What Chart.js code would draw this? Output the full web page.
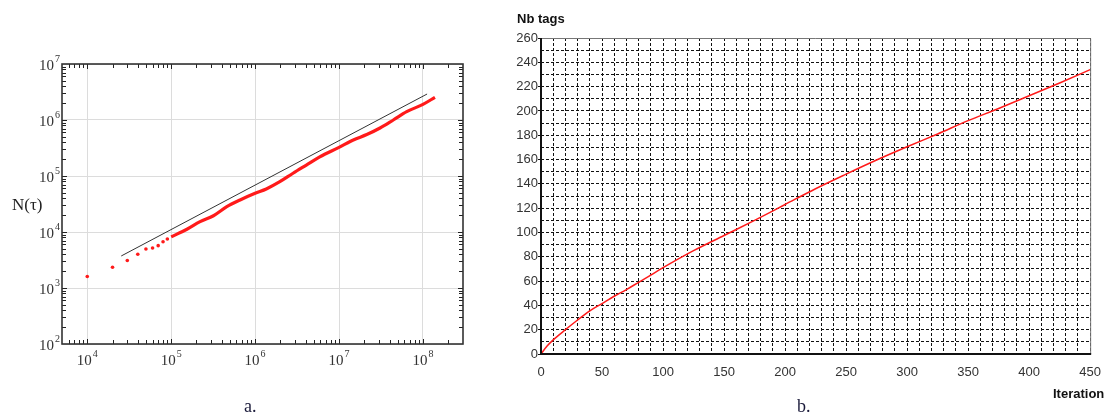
<!DOCTYPE html>
<html>
<head>
<meta charset="utf-8">
<script src="https://cdn.jsdelivr.net/npm/chart.js@4/dist/chart.umd.min.js"></script>
<style>
  body { margin: 0; width: 1112px; height: 414px; background: #fff; position: relative; overflow: hidden; }
  canvas { position: absolute; top: 0; }
  #chartA { left: 0; width: 480px; height: 414px; }
  #chartB { left: 480px; width: 632px; height: 414px; }
  .lbl { position: absolute; white-space: nowrap; line-height: 1; }
</style>
</head>
<body>
<canvas id="chartA" width="480" height="414"></canvas>
<canvas id="chartB" width="632" height="414"></canvas>
<div class="lbl" style="left:12px;top:195px;font:17px 'Liberation Serif';color:#222">N(τ)</div>
<div class="lbl" style="left:244px;top:396px;font:18px 'Liberation Serif';color:#1a1a3a">a.</div>
<div class="lbl" style="left:517px;top:11px;font:bold 13px 'Liberation Sans';color:#111">Nb tags</div>
<div class="lbl" style="left:1053px;top:386px;font:bold 13px 'Liberation Sans';color:#111">Iteration</div>
<div class="lbl" style="left:797px;top:396px;font:18px 'Liberation Serif';color:#1a1a3a">b.</div>
<script>
// ---- panel a: N(tau) on log-log axes
const sparseTau = [1e4, 2e4, 3e4, 4e4, 5e4, 6e4, 7e4, 8e4, 9e4];
const sparseN = [1600, 2350, 3100, 4000, 4970, 5180, 5700, 6700, 7500];
const denseTau = [1e5, 1.54e5, 2.21e5, 3.19e5, 4.6e5, 6.62e5, 1e6, 1.36e6, 1.97e6, 2.83e6,
                  4.08e6, 5.89e6, 1e7, 1.48e7, 2.14e7, 3.08e7, 4.43e7, 6.4e7, 1e8, 1.39e8];
const denseN = [8200, 1.12e4, 1.53e4, 1.95e4, 2.83e4, 3.73e4, 4.9e4, 5.86e4, 7.9e4, 1.12e5,
                1.57e5, 2.2e5, 3.25e5, 4.4e5, 5.5e5, 7.2e5, 1e6, 1.41e6, 1.9e6, 2.54e6];
const fitTau = [2.54e4, 1.12e8];
const fitN = [3730, 2.91e6];
const xDecades = [1e4, 1e5, 1e6, 1e7, 1e8];
const yDecades = [1e2, 1e3, 1e4, 1e5, 1e6, 1e7];

// ---- panel b: tags vs iteration
const iterations = [0, 5, 10, 20, 30, 40, 50, 60, 70, 80, 90, 100, 125, 150, 175, 200,
                    225, 250, 275, 300, 325, 350, 375, 400, 425, 450];
const nbTags = [0, 6.5, 11.6, 20, 28, 35.5, 41.5, 47.5, 53, 59, 65, 71, 85, 97.5, 110, 123,
                136, 148, 159.6, 170.5, 181, 192, 202, 212.5, 223, 234];

const RED = '#ff1a1a';

function logTicks(min, max) {
    const out = [];
    for (let e = Math.floor(Math.log10(min)); e <= Math.ceil(Math.log10(max)); e++) {
        for (let m = 1; m < 10; m++) {
            const v = m * Math.pow(10, e);
            if (v >= min && v <= max) out.push({ value: v, major: m === 1 });
        }
    }
    return out;
}

function pts(xs, ys) {
    return xs.map((x, i) => ({ x: x, y: ys[i] }));
}

function drawPow(ctx, exp, x, y, align) {
    ctx.font = '15px "Liberation Serif"';
    const wb = ctx.measureText('10').width;
    ctx.font = '10px "Liberation Serif"';
    const we = ctx.measureText(String(exp)).width;
    const w = wb + we + 1;
    let left = align === 'right' ? x - w : x - w / 2;
    ctx.textAlign = 'left';
    ctx.textBaseline = 'middle';
    ctx.font = '15px "Liberation Serif"';
    ctx.fillText('10', left, y);
    ctx.font = '10px "Liberation Serif"';
    ctx.fillText(String(exp), left + wb + 1, y - 7);
}

const frameA = {
    id: 'frameA',
    afterDraw(chart) {
        const { ctx, chartArea: a, scales: { x, y } } = chart;
        ctx.save();
        ctx.strokeStyle = '#222';
        ctx.lineWidth = 1;
        ctx.beginPath();
        x.ticks.forEach(t => {
            const px = Math.round(x.getPixelForValue(t.value)) + 0.5;
            if (px < a.left + 2 || px > a.right - 2) return;
            const len = t.major ? 5 : 4;
            ctx.moveTo(px, a.bottom); ctx.lineTo(px, a.bottom - len);
            ctx.moveTo(px, a.top); ctx.lineTo(px, a.top + len);
        });
        y.ticks.forEach(t => {
            const py = Math.round(y.getPixelForValue(t.value)) + 0.5;
            if (py < a.top + 2 || py > a.bottom - 2) return;
            const len = t.major ? 5 : 4;
            ctx.moveTo(a.left, py); ctx.lineTo(a.left + len, py);
            ctx.moveTo(a.right, py); ctx.lineTo(a.right - len, py);
        });
        ctx.stroke();
        ctx.lineWidth = 1.6;
        ctx.strokeStyle = '#333';
        ctx.strokeRect(a.left, a.top, a.right - a.left, a.bottom - a.top);

        ctx.fillStyle = '#333';
        xDecades.forEach(v => {
            drawPow(ctx, Math.round(Math.log10(v)), x.getPixelForValue(v), a.bottom + 17, 'center');
        });
        yDecades.forEach(v => {
            drawPow(ctx, Math.round(Math.log10(v)), a.left - 2, y.getPixelForValue(v) + 2, 'right');
        });
        ctx.restore();
    }
};

new Chart(document.getElementById('chartA'), {
    type: 'scatter',
    data: {
        datasets: [
            {
                data: pts(fitTau, fitN),
                showLine: true,
                borderColor: '#333',
                borderWidth: 1,
                pointRadius: 0
            },
            {
                data: pts(sparseTau, sparseN),
                pointRadius: 1.8,
                pointBorderWidth: 0,
                backgroundColor: RED
            },
            {
                data: pts(denseTau, denseN),
                showLine: true,
                borderColor: RED,
                borderWidth: 3.2,
                pointRadius: 0,
                cubicInterpolationMode: 'monotone'
            }
        ]
    },
    options: {
        responsive: false,
        animation: false,
        layout: { padding: { top: 64, right: 17, left: 0, bottom: 0 } },
        plugins: { legend: { display: false }, tooltip: { enabled: false } },
        scales: {
            x: {
                type: 'logarithmic',
                min: 5000,
                max: 3e8,
                afterBuildTicks: s => { s.ticks = logTicks(5000, 3e8); },
                afterFit: s => { s.height = 70; },
                ticks: { display: false },
                grid: { color: c => (c.tick && c.tick.major) ? '#dcdcdc' : 'rgba(0,0,0,0)', drawTicks: false },
                border: { display: false }
            },
            y: {
                type: 'logarithmic',
                min: 100,
                max: 1e7,
                afterBuildTicks: s => { s.ticks = logTicks(100, 1e7); },
                afterFit: s => { s.width = 62; },
                ticks: { display: false },
                grid: { color: c => (c.tick && c.tick.major) ? '#dcdcdc' : 'rgba(0,0,0,0)', drawTicks: false },
                border: { display: false }
            }
        }
    },
    plugins: [frameA]
});

const frameB = {
    id: 'frameB',
    afterDraw(chart) {
        const { ctx, chartArea: a } = chart;
        ctx.save();
        ctx.lineWidth = 1;
        ctx.strokeStyle = '#777';
        ctx.beginPath();
        ctx.moveTo(a.left, a.top + 0.5); ctx.lineTo(a.right + 0.5, a.top + 0.5);
        ctx.lineTo(a.right + 0.5, a.bottom);
        ctx.stroke();
        ctx.lineWidth = 2;
        ctx.strokeStyle = '#111';
        ctx.beginPath();
        ctx.moveTo(a.left, a.top); ctx.lineTo(a.left, a.bottom);
        ctx.lineTo(a.right + 1, a.bottom);
        ctx.stroke();
        ctx.restore();
    }
};

const tickFont = { family: 'Liberation Sans', size: 13 };

new Chart(document.getElementById('chartB'), {
    type: 'scatter',
    data: {
        datasets: [{
            data: pts(iterations, nbTags),
            showLine: true,
            borderColor: RED,
            borderWidth: 1.5,
            pointRadius: 0,
            cubicInterpolationMode: 'monotone'
        }]
    },
    options: {
        responsive: false,
        animation: false,
        layout: { padding: { top: 38, right: 12, left: 0, bottom: 0 } },
        plugins: { legend: { display: false }, tooltip: { enabled: false } },
        scales: {
            x: {
                type: 'linear',
                min: 0,
                max: 450,
                afterFit: s => { s.height = 60; },
                ticks: {
                    stepSize: 10,
                    autoSkip: false,
                    maxRotation: 0,
                    padding: 11,
                    color: '#333',
                    font: tickFont,
                    callback: v => (v % 50 === 0 ? v : '')
                },
                grid: { color: '#111', lineWidth: 1, drawTicks: false },
                border: { display: false, dash: [3, 2] }
            },
            y: {
                type: 'linear',
                min: 0,
                max: 260,
                afterFit: s => { s.width = 61; },
                ticks: {
                    stepSize: 10,
                    autoSkip: false,
                    padding: 0,
                    color: '#333',
                    font: tickFont,
                    callback: v => (v % 20 === 0 ? v : '')
                },
                grid: {
                    color: '#111',
                    lineWidth: 1,
                    tickLength: 3,
                    tickColor: c => (c.tick && c.tick.value % 20 === 0) ? '#111' : 'rgba(0,0,0,0)'
                },
                border: { display: false, dash: [3, 2] }
            }
        }
    },
    plugins: [frameB]
});
</script>
</body>
</html>
